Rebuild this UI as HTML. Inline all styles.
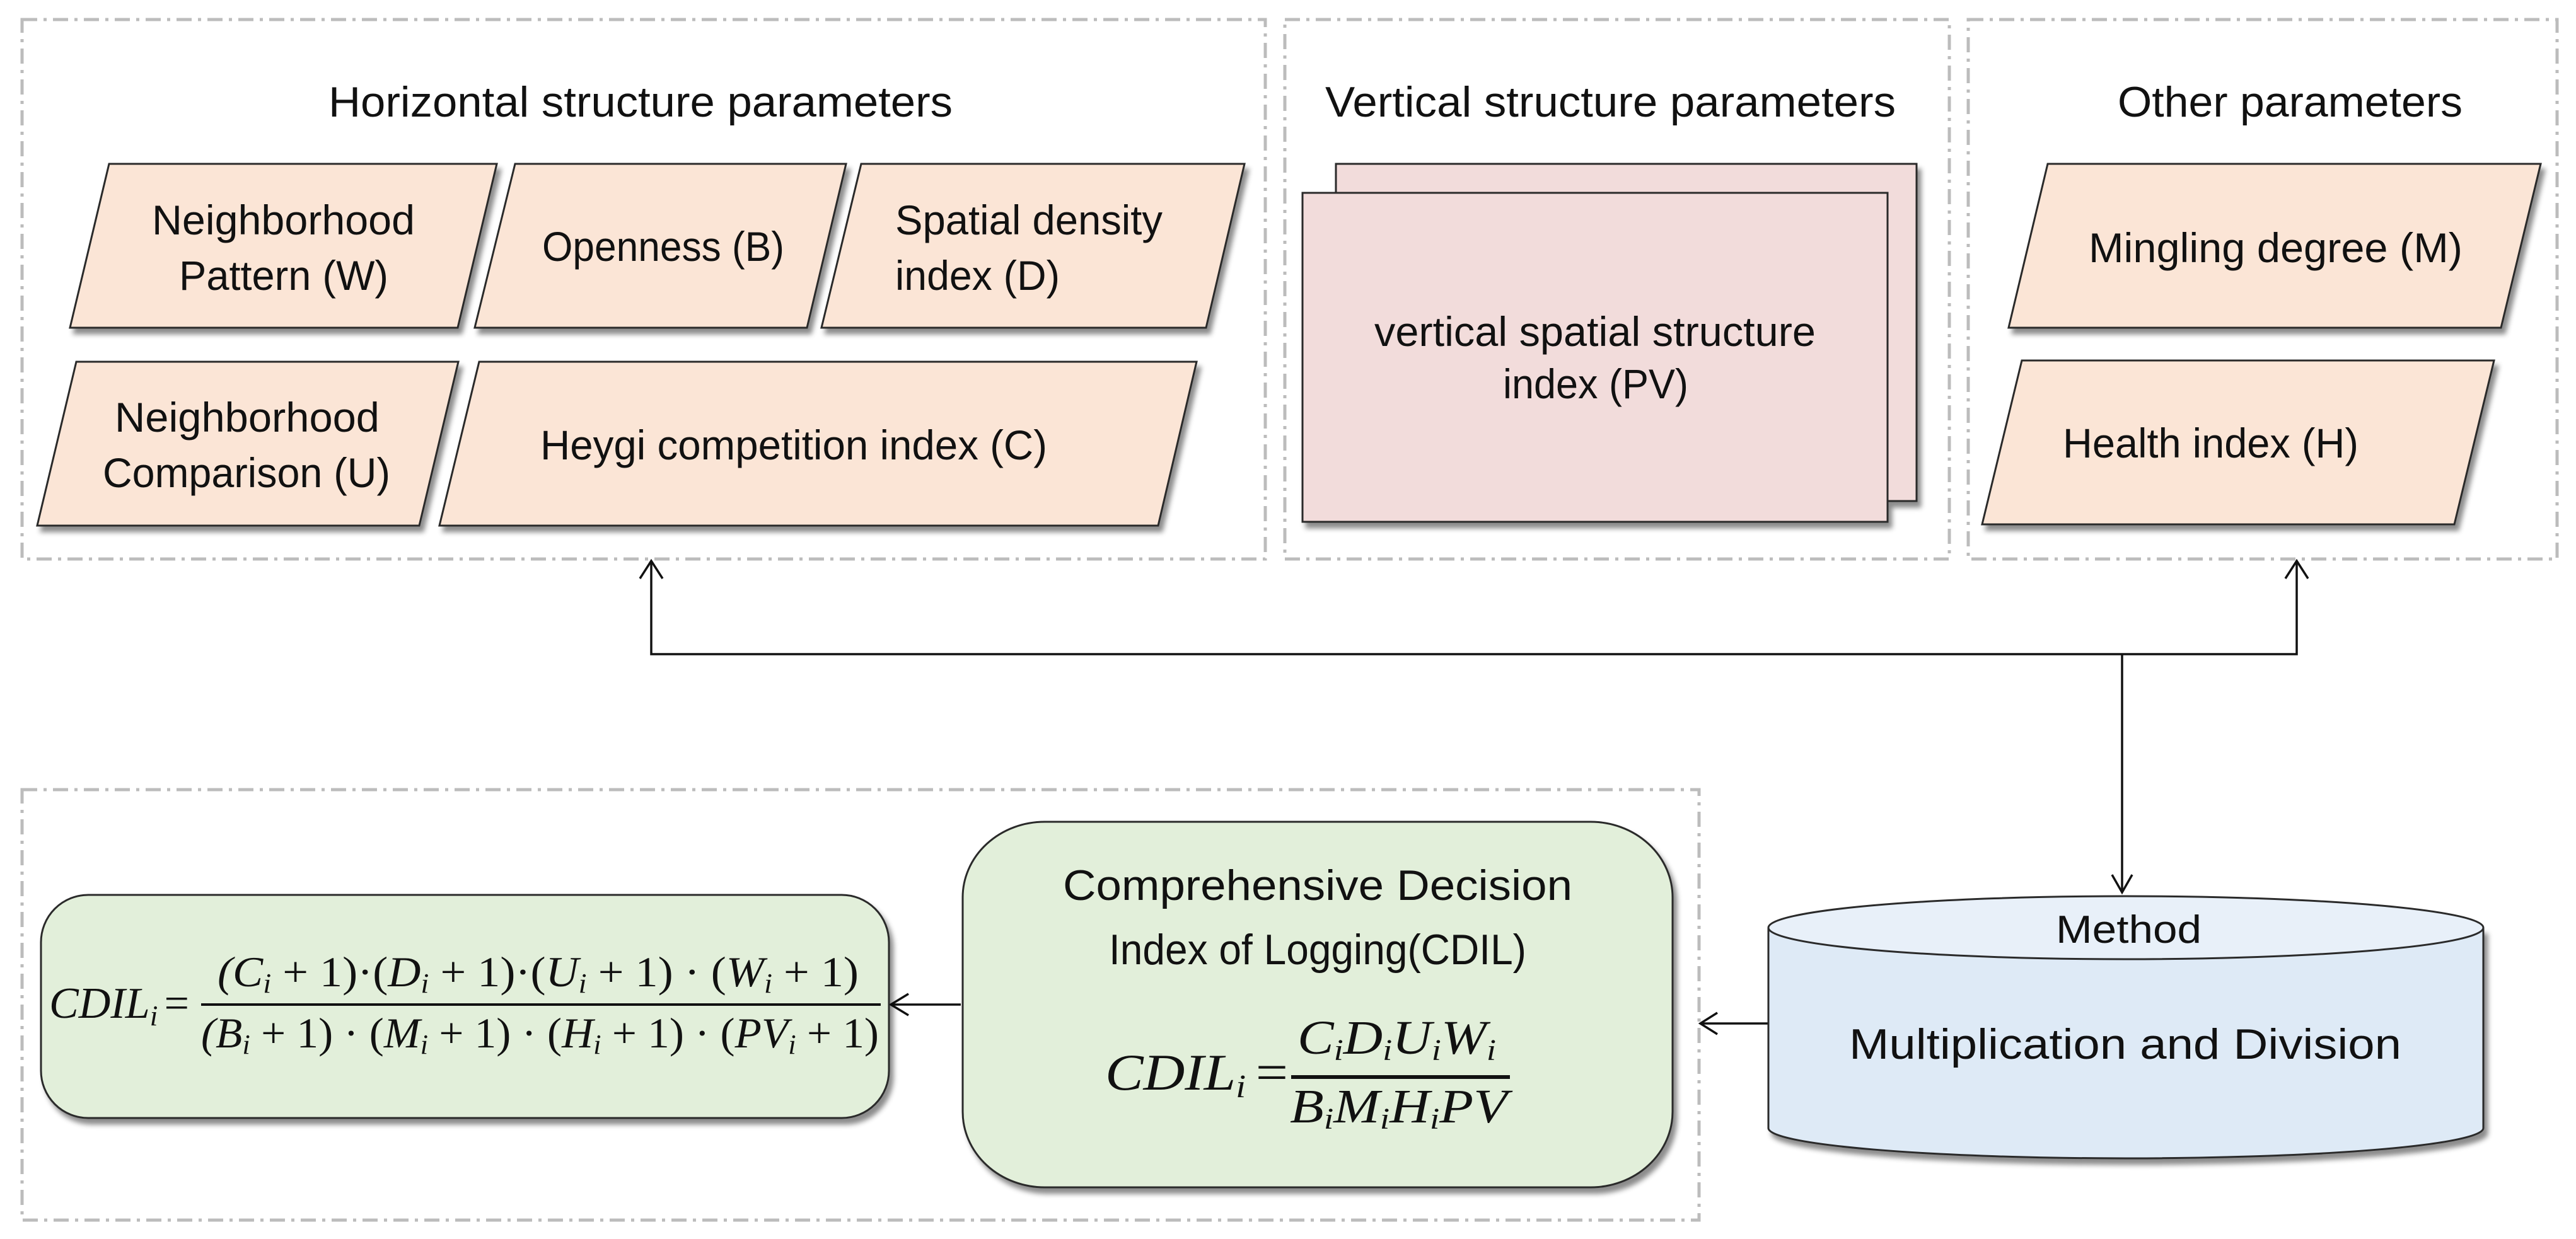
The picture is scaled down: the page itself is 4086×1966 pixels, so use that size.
<!DOCTYPE html>
<html><head><meta charset="utf-8"><style>html,body{margin:0;padding:0;background:#fff}svg{display:block}</style></head>
<body>
<svg width="4086" height="1966" viewBox="0 0 4086 1966" xmlns="http://www.w3.org/2000/svg">
<defs>
<filter id="sh" x="-10%" y="-10%" width="130%" height="130%"><feDropShadow dx="6" dy="9" stdDeviation="4" flood-color="#000" flood-opacity="0.45"/></filter>
</defs>
<g fill="none" stroke="#bcbcbc" stroke-width="5" stroke-dasharray="24 10 5 10">
<rect x="35" y="31" width="1972" height="856"/>
<rect x="2038" y="31" width="1054" height="856"/>
<rect x="3122" y="31" width="934" height="856"/>
<rect x="35" y="1253" width="2660" height="683"/>
</g>
<g font-family="Liberation Sans, sans-serif" fill="#111" font-size="68" text-anchor="start">
<text x="521" y="185" textLength="990" lengthAdjust="spacingAndGlyphs">Horizontal structure parameters</text>
<text x="2102" y="185" textLength="905" lengthAdjust="spacingAndGlyphs">Vertical structure parameters</text>
<text x="3359" y="185" textLength="547" lengthAdjust="spacingAndGlyphs">Other parameters</text>
</g>
<g fill="#fbe5d6" stroke="#2a2a2a" stroke-width="3" filter="url(#sh)">
<polygon points="173,260 788,260 726,520 111,520"/>
<polygon points="817,260 1342,260 1280,520 753,520"/>
<polygon points="1366,260 1974,260 1913,520 1303,520"/>
<polygon points="121,574 727,574 665,834 59,834"/>
<polygon points="760,574 1898,574 1837,834 697,834"/>
<polygon points="3248,260 4030,260 3967,520 3186,520"/>
<polygon points="3207,572 3956,572 3893,832 3144,832"/>
</g>
<g fill="#f2dcdb" stroke="#2a2a2a" stroke-width="3" filter="url(#sh)">
<rect x="2119" y="260" width="921" height="535"/>
<rect x="2066" y="306" width="928" height="522"/>
</g>
<g font-family="Liberation Sans, sans-serif" fill="#111" font-size="66">
<text x="241" y="372" textLength="417" lengthAdjust="spacingAndGlyphs">Neighborhood</text>
<text x="284" y="460" textLength="332" lengthAdjust="spacingAndGlyphs">Pattern (W)</text>
<text x="860" y="414" textLength="384" lengthAdjust="spacingAndGlyphs">Openness (B)</text>
<text x="1420" y="372" textLength="424" lengthAdjust="spacingAndGlyphs">Spatial density</text>
<text x="1420" y="460" textLength="261" lengthAdjust="spacingAndGlyphs">index (D)</text>
<text x="182" y="685" textLength="420" lengthAdjust="spacingAndGlyphs">Neighborhood</text>
<text x="163" y="773" textLength="456" lengthAdjust="spacingAndGlyphs">Comparison (U)</text>
<text x="857" y="729" textLength="804" lengthAdjust="spacingAndGlyphs">Heygi competition index (C)</text>
<text x="2180" y="549" textLength="700" lengthAdjust="spacingAndGlyphs">vertical spatial structure</text>
<text x="2384" y="632" textLength="294" lengthAdjust="spacingAndGlyphs">index (PV)</text>
<text x="3313" y="416" textLength="593" lengthAdjust="spacingAndGlyphs">Mingling degree (M)</text>
<text x="3272" y="726" textLength="469" lengthAdjust="spacingAndGlyphs">Health index (H)</text>
</g>
<g fill="none" stroke="#111" stroke-width="3.5">
<polyline points="1033,892 1033,1038 3643,1038 3643,892"/>
<polyline points="1015,918 1033,890 1051,918"/>
<polyline points="3625,918 3643,890 3661,918"/>
<line x1="3366" y1="1038" x2="3366" y2="1414"/>
<polyline points="3350,1388 3366,1416 3382,1388"/>
<line x1="2805" y1="1624" x2="2698" y2="1624"/>
<polyline points="2724,1607 2697,1624 2724,1641"/>
<line x1="1524" y1="1594" x2="1414" y2="1594"/>
<polyline points="1441,1577 1413,1594 1441,1611"/>
</g>
<g fill="#e2efda" stroke="#2a2a2a" stroke-width="3" filter="url(#sh)">
<rect x="65" y="1420" width="1345" height="354" rx="75" ry="75"/>
<rect x="1527" y="1304" width="1126" height="580" rx="130" ry="120"/>
</g>
<g stroke="#2a2a2a" stroke-width="3">
<path d="M2805,1472 L2805,1790 A567,48 0 0 0 3939,1790 L3939,1472" fill="#deeaf6" filter="url(#sh)"/>
<ellipse cx="3372" cy="1472" rx="567" ry="50" fill="#e8f0f9"/>
</g>
<g font-family="Liberation Sans, sans-serif" fill="#111" font-size="68">
<text x="1686" y="1428" textLength="808" lengthAdjust="spacingAndGlyphs">Comprehensive Decision</text>
<text x="1759" y="1530" textLength="662" lengthAdjust="spacingAndGlyphs">Index of Logging(CDIL)</text>
<text x="3261" y="1496" textLength="231" lengthAdjust="spacingAndGlyphs" font-size="62">Method</text>
<text x="2933" y="1680" textLength="876" lengthAdjust="spacingAndGlyphs">Multiplication and Division</text>
</g>
<g font-family="Liberation Serif, serif" fill="#111" font-style="italic">
<text x="1753" y="1729" font-size="82" textLength="290" lengthAdjust="spacingAndGlyphs">CDIL<tspan font-size="52" dy="12">i</tspan><tspan dy="-12" font-style="normal" dx="14">=</tspan></text>
<text x="2058" y="1672" font-size="76" textLength="315" lengthAdjust="spacingAndGlyphs">C<tspan font-size="48" dy="10">i</tspan><tspan dy="-10">D</tspan><tspan font-size="48" dy="10">i</tspan><tspan dy="-10">U</tspan><tspan font-size="48" dy="10">i</tspan><tspan dy="-10">W</tspan><tspan font-size="48" dy="10">i</tspan></text>
<text x="2046" y="1781" font-size="76" textLength="345" lengthAdjust="spacingAndGlyphs">B<tspan font-size="48" dy="10">i</tspan><tspan dy="-10">M</tspan><tspan font-size="48" dy="10">i</tspan><tspan dy="-10">H</tspan><tspan font-size="48" dy="10">i</tspan><tspan dy="-10">PV</tspan></text>
<text x="78" y="1615" font-size="70" textLength="222" lengthAdjust="spacingAndGlyphs">CDIL<tspan font-size="46" dy="12">i</tspan><tspan dy="-12" font-style="normal" dx="10">=</tspan></text>
<text x="345" y="1565" font-size="68" textLength="1017" lengthAdjust="spacingAndGlyphs">(C<tspan font-size="44" dy="10">i</tspan><tspan dy="-10" font-style="normal"> + 1)·(</tspan>D<tspan font-size="44" dy="10">i</tspan><tspan dy="-10" font-style="normal"> + 1)·(</tspan>U<tspan font-size="44" dy="10">i</tspan><tspan dy="-10" font-style="normal"> + 1) · (</tspan>W<tspan font-size="44" dy="10">i</tspan><tspan dy="-10" font-style="normal"> + 1)</tspan></text>
<text x="319" y="1662" font-size="68" textLength="1075" lengthAdjust="spacingAndGlyphs">(B<tspan font-size="44" dy="10">i</tspan><tspan dy="-10" font-style="normal"> + 1) · (</tspan>M<tspan font-size="44" dy="10">i</tspan><tspan dy="-10" font-style="normal"> + 1) · (</tspan>H<tspan font-size="44" dy="10">i</tspan><tspan dy="-10" font-style="normal"> + 1) · (</tspan>PV<tspan font-size="44" dy="10">i</tspan><tspan dy="-10" font-style="normal"> + 1)</tspan></text>
</g>
<g stroke="#111">
<line x1="2048" y1="1709" x2="2395" y2="1709" stroke-width="6"/>
<line x1="319" y1="1594" x2="1397" y2="1594" stroke-width="4"/>
</g>
</svg>
</body></html>
